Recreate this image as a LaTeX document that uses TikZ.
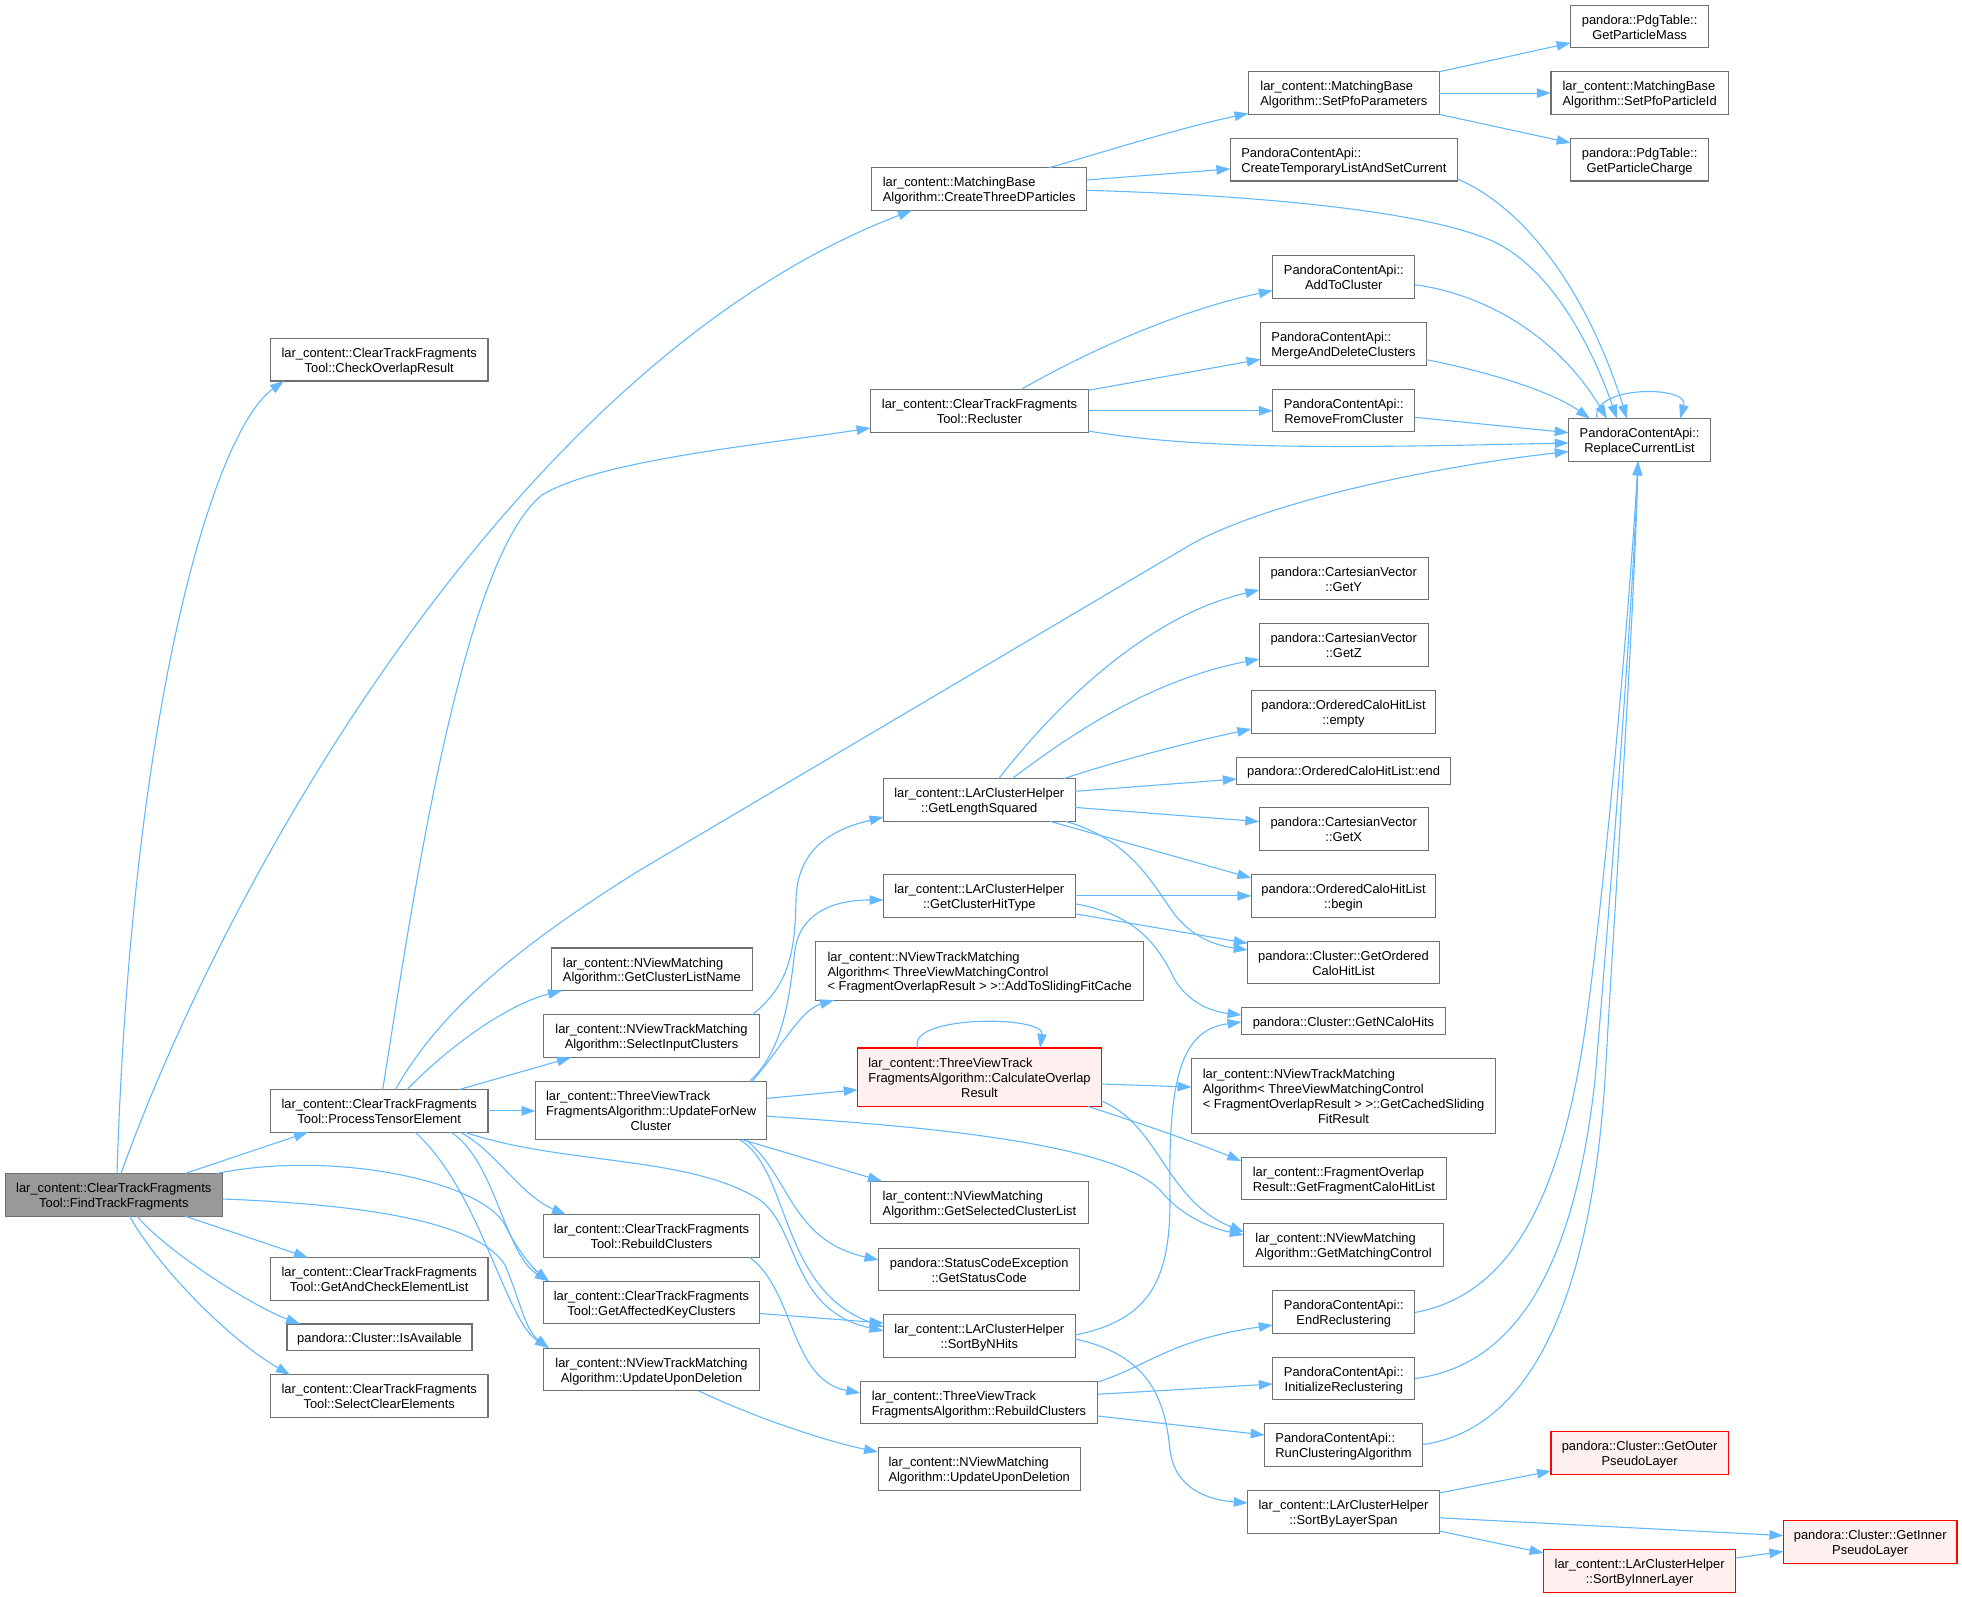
\documentclass[tikz,border=0pt]{standalone}
\usepackage{fontspec}
\setmainfont{Liberation Sans}
\usetikzlibrary{arrows.meta}
\definecolor{edgeblue}{HTML}{63B8FF}
\definecolor{boxgray}{HTML}{707070}
\definecolor{rootfill}{HTML}{999999}
\definecolor{redfill}{HTML}{FFF0F0}
\newcommand\dlbl[2]{\raisebox{-2.2pt}[\height][\depth]{\begin{tabular}{@{}l@{}}#1\multicolumn{1}{@{}c@{}}{#2}\end{tabular}}}
\begin{document}
\begin{tikzpicture}[x=1pt,y=-1pt,
  dbox/.style={draw=boxgray, line width=1.1pt, fill=white, inner xsep=8pt, inner ysep=0pt, minimum height=42.6pt, outer sep=0pt, font=\fontsize{12.9}{14.9}\selectfont, text=black},
  oneline/.style={minimum height=26.8pt},
  threeline/.style={minimum height=58.5pt},
  fourline/.style={minimum height=74.3pt},
  rootbox/.style={dbox, fill=rootfill},
  redbox/.style={dbox, draw=red, fill=redfill},
  ca/.style={draw=edgeblue, line width=1.1pt, -{Triangle[length=14pt,width=9.5pt]}}]
\useasboundingbox (0,0) rectangle (1962,1597);
% nodes
\node[rootbox, minimum width=217.5pt] (F) at (113.8,1194.8) {\dlbl{lar\_content::ClearTrackFragments\\}{Tool::FindTrackFragments}};
\node[dbox, minimum width=217.5pt] (chk) at (379.2,359.7) {\dlbl{lar\_content::ClearTrackFragments\\}{Tool::CheckOverlapResult}};
\node[dbox, minimum width=217.5pt] (pte) at (379.2,1110.9) {\dlbl{lar\_content::ClearTrackFragments\\}{Tool::ProcessTensorElement}};
\node[dbox, minimum width=217.5pt] (gac) at (379.2,1278.9) {\dlbl{lar\_content::ClearTrackFragments\\}{Tool::GetAndCheckElementList}};
\node[dbox, oneline, minimum width=185pt] (isa) at (379.5,1337.4) {\dlbl{}{pandora::Cluster::IsAvailable}};
\node[dbox, minimum width=217.5pt] (sce) at (379.2,1396.1) {\dlbl{lar\_content::ClearTrackFragments\\}{Tool::SelectClearElements}};
\node[dbox, minimum width=214.7pt] (ctd) at (979.2,189.1) {\dlbl{lar\_content::MatchingBase\\}{Algorithm::CreateThreeDParticles}};
\node[dbox, minimum width=218pt] (rcl) at (979.5,410.8) {\dlbl{lar\_content::ClearTrackFragments\\}{Tool::Recluster}};
\node[dbox, minimum width=201.5pt] (gcln) at (651.8,969.3) {\dlbl{lar\_content::NViewMatching\\}{Algorithm::GetClusterListName}};
\node[dbox, minimum width=216.2pt] (sic) at (651.5,1036.2) {\dlbl{lar\_content::NViewTrackMatching\\}{Algorithm::SelectInputClusters}};
\node[dbox, threeline, minimum width=230.9pt] (ufn) at (651.1,1110.6) {\dlbl{lar\_content::ThreeViewTrack\\FragmentsAlgorithm::UpdateForNew\\}{Cluster}};
\node[dbox, minimum width=216.2pt] (crb) at (651.5,1235.9) {\dlbl{lar\_content::ClearTrackFragments\\}{Tool::RebuildClusters}};
\node[dbox, minimum width=216.2pt] (gak) at (651.5,1302.5) {\dlbl{lar\_content::ClearTrackFragments\\}{Tool::GetAffectedKeyClusters}};
\node[dbox, minimum width=216.2pt] (uud) at (651.5,1369.4) {\dlbl{lar\_content::NViewTrackMatching\\}{Algorithm::UpdateUponDeletion}};
\node[dbox, minimum width=191.5pt] (gls) at (979.3,800) {\dlbl{lar\_content::LArClusterHelper\\}{::GetLengthSquared}};
\node[dbox, minimum width=191.5pt] (ght) at (979.3,895.9) {\dlbl{lar\_content::LArClusterHelper\\}{::GetClusterHitType}};
\node[dbox, threeline, minimum width=328.2pt] (asf) at (979.7,970.9) {\dlbl{lar\_content::NViewTrackMatching\\Algorithm< ThreeViewMatchingControl\\}{< FragmentOverlapResult > >::AddToSlidingFitCache}};
\node[redbox, threeline, minimum width=243.7pt] (cor) at (979.5,1077.2) {\dlbl{lar\_content::ThreeViewTrack\\FragmentsAlgorithm::CalculateOverlap\\}{Result}};
\node[dbox, minimum width=218.7pt] (gscl) at (979.5,1202.5) {\dlbl{lar\_content::NViewMatching\\}{Algorithm::GetSelectedClusterList}};
\node[dbox, minimum width=201.3pt] (gsc) at (979.2,1269.4) {\dlbl{pandora::StatusCodeException\\}{::GetStatusCode}};
\node[dbox, minimum width=191.5pt] (snh) at (979.3,1336) {\dlbl{lar\_content::LArClusterHelper\\}{::SortByNHits}};
\node[dbox, minimum width=237.5pt] (trb) at (979,1402.5) {\dlbl{lar\_content::ThreeViewTrack\\}{FragmentsAlgorithm::RebuildClusters}};
\node[dbox, minimum width=202.3pt] (nuud) at (979.2,1469) {\dlbl{lar\_content::NViewMatching\\}{Algorithm::UpdateUponDeletion}};
\node[dbox, minimum width=190.8pt] (spp) at (1343.9,93.1) {\dlbl{lar\_content::MatchingBase\\}{Algorithm::SetPfoParameters}};
\node[dbox, minimum width=227pt] (ctl) at (1343.9,159.7) {\dlbl{PandoraContentApi::\\}{CreateTemporaryListAndSetCurrent}};
\node[dbox, minimum width=142pt] (atc) at (1343.8,277) {\dlbl{PandoraContentApi::\\}{AddToCluster}};
\node[dbox, minimum width=165.6pt] (mdc) at (1343.5,343.9) {\dlbl{PandoraContentApi::\\}{MergeAndDeleteClusters}};
\node[dbox, minimum width=142pt] (rfc) at (1343.8,410.6) {\dlbl{PandoraContentApi::\\}{RemoveFromCluster}};
\node[dbox, minimum width=168.7pt] (gy) at (1343.7,578.6) {\dlbl{pandora::CartesianVector\\}{::GetY}};
\node[dbox, minimum width=168.7pt] (gz) at (1343.7,645.2) {\dlbl{pandora::CartesianVector\\}{::GetZ}};
\node[dbox, minimum width=184.4pt] (emp) at (1343.5,711.8) {\dlbl{pandora::OrderedCaloHitList\\}{::empty}};
\node[dbox, oneline, minimum width=213.5pt] (end) at (1343.6,770.7) {\dlbl{}{pandora::OrderedCaloHitList::end}};
\node[dbox, minimum width=168.7pt] (gx) at (1343.7,829.2) {\dlbl{pandora::CartesianVector\\}{::GetX}};
\node[dbox, minimum width=184.4pt] (beg) at (1343.5,895.9) {\dlbl{pandora::OrderedCaloHitList\\}{::begin}};
\node[dbox, minimum width=191.5pt] (goc) at (1343.5,962.6) {\dlbl{pandora::Cluster::GetOrdered\\}{CaloHitList}};
\node[dbox, oneline, minimum width=204pt] (gnc) at (1343.5,1021.3) {\dlbl{}{pandora::Cluster::GetNCaloHits}};
\node[dbox, fourline, minimum width=304pt] (gcs) at (1343.5,1096) {\dlbl{lar\_content::NViewTrackMatching\\Algorithm< ThreeViewMatchingControl\\< FragmentOverlapResult > >::GetCachedSliding\\}{FitResult}};
\node[dbox, minimum width=205.3pt] (gfc) at (1343.8,1178.5) {\dlbl{lar\_content::FragmentOverlap\\}{Result::GetFragmentCaloHitList}};
\node[dbox, minimum width=199.5pt] (gmc) at (1343.6,1245.2) {\dlbl{lar\_content::NViewMatching\\}{Algorithm::GetMatchingControl}};
\node[dbox, minimum width=142pt] (erc) at (1343.8,1311.8) {\dlbl{PandoraContentApi::\\}{EndReclustering}};
\node[dbox, minimum width=142pt] (irc) at (1343.8,1378.5) {\dlbl{PandoraContentApi::\\}{InitializeReclustering}};
\node[dbox, minimum width=157.6pt] (rca) at (1343.5,1445.2) {\dlbl{PandoraContentApi::\\}{RunClusteringAlgorithm}};
\node[dbox, minimum width=191.5pt] (sls) at (1343.5,1511.8) {\dlbl{lar\_content::LArClusterHelper\\}{::SortByLayerSpan}};
\node[dbox, minimum width=138pt] (gpm) at (1639.6,26.5) {\dlbl{pandora::PdgTable::\\}{GetParticleMass}};
\node[dbox, minimum width=177.3pt] (spi) at (1639.6,93.1) {\dlbl{lar\_content::MatchingBase\\}{Algorithm::SetPfoParticleId}};
\node[dbox, minimum width=138pt] (gpc) at (1639.6,159.7) {\dlbl{pandora::PdgTable::\\}{GetParticleCharge}};
\node[dbox, minimum width=141.7pt] (rcur) at (1639.6,440) {\dlbl{PandoraContentApi::\\}{ReplaceCurrentList}};
\node[redbox, minimum width=177.3pt] (gop) at (1639.6,1453.2) {\dlbl{pandora::Cluster::GetOuter\\}{PseudoLayer}};
\node[redbox, minimum width=192pt] (sil) at (1639.6,1571) {\dlbl{lar\_content::LArClusterHelper\\}{::SortByInnerLayer}};
\node[redbox, minimum width=173.6pt] (gip) at (1870.2,1541.8) {\dlbl{pandora::Cluster::GetInner\\}{PseudoLayer}};
% edges from FindTrackFragments
\draw[ca] (F.north -| 117,0) .. controls (132,700) and (215,430) .. (chk.south -| 284,0);
\draw[ca] (F.north -| 121,0) .. controls (230,870) and (520,360) .. (ctd.south -| 912,0);
\draw[ca] (F.north -| 185,0) -- (pte.south -| 308,0);
\draw[ca] (F.south -| 185,0) -- (gac.north -| 308,0);
\draw[ca] (F.south -| 137,0) .. controls (165,1250) and (250,1305) .. (isa.north -| 300,0);
\draw[ca] (F.south -| 129.5,0) .. controls (160,1270) and (230,1340) .. (sce.north -| 290,0);
\draw[ca] (F.north -| 216.7,0) .. controls (330,1150) and (480,1180) .. (505,1225) .. controls (520,1255) and (535,1270) .. (gak.north -| 549,0);
\draw[ca] (F.east |- 0,1199) .. controls (380,1205) and (480,1225) .. (505,1265) .. controls (520,1300) and (525,1330) .. (uud.north -| 549,0);
% edges from ProcessTensorElement
\draw[ca] (pte.north -| 382.7,0) .. controls (410,920) and (460,560) .. (542,495) .. controls (600,460) and (760,445) .. (rcl.west |- 0,428);
\draw[ca] (pte.north -| 395.4,0) .. controls (440,1010) and (520,945) .. (640,870) -- (1190,545) .. controls (1260,505) and (1420,468) .. (rcur.west |- 0,451.5);
\draw[ca] (pte.north -| 407,0) .. controls (445,1050) and (505,1005) .. (gcln.south -| 562,0);
\draw[ca] (pte.north -| 459,0) -- (sic.south -| 571,0);
\draw[ca] (pte.east) -- (ufn.west |- pte.east);
\draw[ca] (pte.south -| 460,0) .. controls (495,1150) and (520,1195) .. (crb.north -| 566,0);
\draw[ca] (pte.south -| 451,0) .. controls (495,1160) and (505,1255) .. (gak.north -| 549,0);
\draw[ca] (pte.south -| 415,0) .. controls (480,1190) and (505,1320) .. (uud.north -| 549,0);
\draw[ca] (pte.south -| 465,0) .. controls (560,1165) and (690,1155) .. (760,1200) .. controls (800,1230) and (790,1310) .. (snh.west |- 0,1331);
% SelectInputClusters, UpdateForNewCluster
\draw[ca] (sic.north -| 752,0) .. controls (790,985) and (795,950) .. (796,900) .. controls (797,850) and (830,830) .. (gls.west |- 0,817);
\draw[ca] (ufn.north -| 749.4,0) .. controls (785,1050) and (790,990) .. (795,950) .. controls (800,915) and (830,900) .. (ght.west |- 0,900);
\draw[ca] (ufn.north -| 752,0) .. controls (780,1050) and (800,1010) .. (asf.south -| 834,0);
\draw[ca] (ufn.east |- 0,1098.4) -- (cor.west |- 0,1089.8);
\draw[ca] (ufn.east |- 0,1116.2) .. controls (900,1125) and (1110,1140) .. (1160,1190) .. controls (1180,1215) and (1210,1228) .. (gmc.west |- 0,1235);
\draw[ca] (ufn.south -| 743,0) -- (gscl.north -| 882,0);
\draw[ca] (ufn.south -| 746,0) .. controls (790,1175) and (790,1240) .. (gsc.west |- 0,1260);
\draw[ca] (ufn.south -| 740,0) .. controls (790,1170) and (780,1290) .. (snh.west |- 0,1327);
\draw[ca] (gak.east |- 0,1313.5) -- (snh.west |- 0,1323);
\draw[ca] (crb.south -| 749.4,0) .. controls (795,1290) and (790,1380) .. (trb.west |- 0,1393);
\draw[ca] (uud.south -| 698.3,0) .. controls (760,1420) and (830,1442) .. (nuud.west |- 0,1452);
% CalculateOverlapResult
\draw[ca] (cor.north -| 918,0) .. controls (905,1015) and (1045,1015) .. (cor.north -| 1040,0);
\draw[ca] (cor.east |- 0,1084) -- (gcs.west |- 0,1087);
\draw[ca] (cor.south -| 1088,0) .. controls (1130,1120) and (1190,1140) .. (gfc.west |- 0,1161);
\draw[ca] (cor.east |- 0,1101) .. controls (1160,1125) and (1165,1200) .. (gmc.west |- 0,1232);
% SortByNHits
\draw[ca] (snh.east |- 0,1335) .. controls (1150,1320) and (1170,1280) .. (1170,1200) .. controls (1168,1080) and (1180,1030) .. (gnc.west |- 0,1022);
\draw[ca] (snh.east |- 0,1339) .. controls (1150,1355) and (1165,1400) .. (1170,1450) .. controls (1175,1490) and (1210,1500) .. (sls.west |- 0,1503);
% GetLengthSquared
\draw[ca] (gls.north -| 998.7,0) .. controls (1060,700) and (1150,615) .. (gy.west |- 0,590);
\draw[ca] (gls.north -| 1012,0) .. controls (1070,735) and (1150,680) .. (gz.west |- 0,659);
\draw[ca] (gls.north -| 1063.4,0) .. controls (1120,760) and (1190,742) .. (emp.west |- 0,729);
\draw[ca] (gls.east |- 0,791.3) -- (end.west |- 0,779);
\draw[ca] (gls.east |- 0,807.4) -- (gx.west |- 0,821.6);
\draw[ca] (gls.south -| 1050,0) -- (beg.west |- 0,878);
\draw[ca] (gls.south -| 1065.6,0) .. controls (1130,840) and (1150,880) .. (1175,915) .. controls (1195,940) and (1220,946) .. (goc.west |- 0,950);
% GetClusterHitType
\draw[ca] (ght.east) -- (beg.west |- ght.east);
\draw[ca] (ght.east |- 0,913.8) -- (goc.west |- 0,943.3);
\draw[ca] (ght.east |- 0,903.8) .. controls (1140,915) and (1160,950) .. (1175,980) .. controls (1190,1005) and (1215,1012) .. (gnc.west |- 0,1015);
% ThreeView RebuildClusters
\draw[ca] (trb.east |- 0,1382) .. controls (1150,1365) and (1170,1340) .. (erc.west |- 0,1325);
\draw[ca] (trb.east |- 0,1394.3) -- (irc.west |- 0,1384);
\draw[ca] (trb.east |- 0,1416) -- (rca.west |- 0,1435);
% SortByLayerSpan
\draw[ca] (sls.east |- 0,1493) -- (gop.west |- 0,1471);
\draw[ca] (sls.east |- 0,1517.8) -- (gip.west |- 0,1535.6);
\draw[ca] (sls.east |- 0,1531) -- (sil.west |- 0,1553);
\draw[ca] (sil.east |- 0,1558) -- (gip.west |- 0,1551.4);
% reclustering -> ReplaceCurrentList
\draw[ca] (erc.east |- 0,1312.5) .. controls (1510,1295) and (1560,1200) .. (1585,1030) .. controls (1605,890) and (1630,600) .. (rcur.south -| 1638,0);
\draw[ca] (irc.east |- 0,1378.5) .. controls (1520,1365) and (1575,1260) .. (1595,1080) .. controls (1610,900) and (1632,620) .. (rcur.south -| 1638,0);
\draw[ca] (rca.east |- 0,1444.6) .. controls (1530,1430) and (1590,1300) .. (1605,1080) .. controls (1615,900) and (1634,620) .. (rcur.south -| 1638,0);
% CreateThreeDParticles and top right
\draw[ca] (ctd.north -| 1049,0) .. controls (1110,150) and (1180,128) .. (spp.west |- 0,113.3);
\draw[ca] (ctd.east |- 0,180) -- (ctl.west |- 0,168.9);
\draw[ca] (ctd.east |- 0,190.3) .. controls (1250,195) and (1420,210) .. (1490,240) .. controls (1560,270) and (1600,370) .. (rcur.north -| 1617,0);
\draw[ca] (ctl.east |- 0,179) .. controls (1530,210) and (1590,300) .. (rcur.north -| 1627,0);
\draw[ca] (spp.north east) -- (gpm.west |- 0,42.9);
\draw[ca] (spp.east) -- (spi.west);
\draw[ca] (spp.south east) -- (gpc.west |- 0,142.9);
\draw[ca] (atc.east |- 0,284.7) .. controls (1490,295) and (1560,340) .. (rcur.north -| 1607,0);
\draw[ca] (mdc.east |- 0,359.7) .. controls (1480,370) and (1550,390) .. (rcur.north -| 1590,0);
\draw[ca] (rfc.east |- 0,417.3) -- (rcur.west |- 0,432.7);
\draw[ca] (rcl.east |- 0,431) .. controls (1200,450) and (1350,448) .. (rcur.west |- 0,442.9);
\draw[ca] (rcl.north -| 1021,0) .. controls (1090,350) and (1180,310) .. (atc.west |- 0,290.5);
\draw[ca] (rcl.east |- 0,390.3) -- (mdc.west |- 0,359.3);
\draw[ca] (rcl.east) -- (rfc.west |- rcl.east);
\draw[ca] (rcur.north -| 1597,0) .. controls (1590,385) and (1690,385) .. (rcur.north -| 1680,0);
\end{tikzpicture}
\end{document}
